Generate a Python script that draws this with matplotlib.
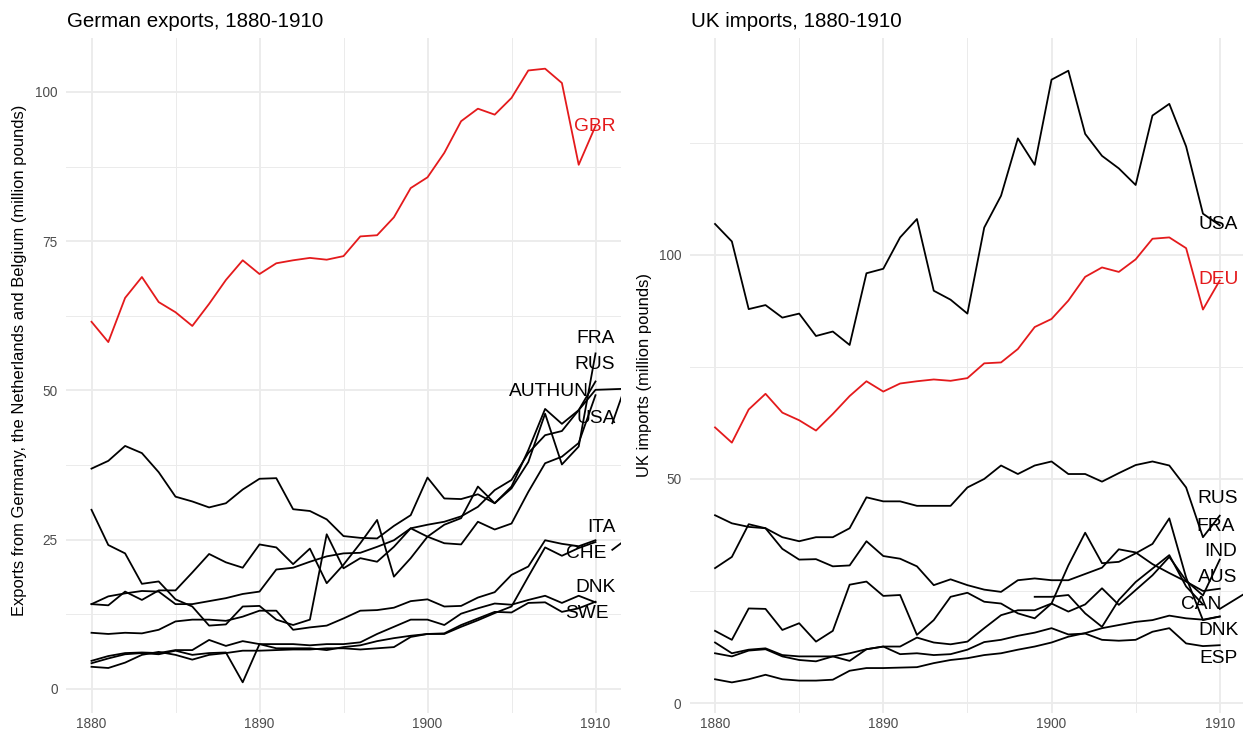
import matplotlib.pyplot as plt

years = list(range(1880, 1911))
red = "#E41A1C"

# left panel: German exports (million pounds)
gbr = [61.5, 58.1, 65.5, 69.0, 64.8, 63.1, 60.8, 64.5, 68.5, 71.8, 69.5, 71.3, 71.8, 72.2, 71.9, 72.5,
       75.8, 76.0, 79.0, 83.9, 85.7, 89.8, 95.1, 97.2, 96.2, 99.0, 103.6, 103.9, 101.5, 87.8, 94.3]
authun = [36.9, 38.2, 40.7, 39.5, 36.3, 32.2, 31.4, 30.4, 31.1, 33.4, 35.2, 35.3, 30.1, 29.8, 28.4, 25.6,
          25.3, 25.2, 27.3, 29.1, 35.4, 31.9, 31.8, 32.6, 31.1, 33.9, 40.0, 46.9, 44.4, 46.7, 50.1, 50.2, 50.3]
usa_x = [30.0, 24.1, 22.7, 17.6, 18.0, 15.0, 13.8, 10.6, 10.8, 13.8, 13.9, 11.6, 10.7, 11.6, 25.9, 20.2,
         21.9, 21.3, 23.8, 26.9, 25.5, 24.4, 24.2, 28.0, 26.7, 27.7, 33.0, 37.8, 38.9, 41.2, 49.2]
fra_x = [14.2, 14.0, 16.3, 14.9, 16.5, 16.5, 19.5, 22.6, 21.2, 20.3, 24.2, 23.7, 20.9, 23.5, 17.7, 20.8,
         24.4, 28.3, 18.8, 21.9, 25.5, 27.5, 28.6, 33.9, 31.1, 33.6, 38.0, 46.1, 37.6, 40.6, 56.2]
rus_x = [14.2, 15.5, 16.0, 16.4, 16.3, 14.2, 14.2, 14.7, 15.2, 15.9, 16.3, 20.0, 20.3, 21.3, 22.2, 22.7,
         22.8, 23.8, 24.9, 26.9, 27.5, 28.0, 28.9, 30.5, 33.3, 35.0, 39.5, 42.5, 43.2, 46.7, 51.5]
ita_x = [9.4, 9.2, 9.4, 9.3, 9.9, 11.3, 11.6, 11.6, 11.4, 12.1, 13.1, 13.1, 9.9, 10.3, 10.6, 11.8,
         13.1, 13.2, 13.6, 14.7, 15.0, 13.8, 13.9, 15.3, 16.2, 19.1, 20.5, 24.9, 24.3, 23.9, 24.9]
dnk_x = [4.7, 5.5, 6.0, 6.1, 6.0, 6.5, 6.5, 8.2, 7.2, 8.0, 7.5, 7.5, 7.5, 7.3, 7.5, 7.5,
         7.8, 9.2, 10.4, 11.6, 11.6, 10.7, 12.6, 13.5, 14.3, 14.1, 14.9, 15.6, 14.4, 15.6, 14.5]
swe_x = [4.3, 5.1, 5.8, 6.0, 5.8, 6.4, 5.7, 6.0, 6.1, 1.1, 7.5, 6.8, 6.8, 6.8, 6.5, 7.0,
         7.3, 8.0, 8.5, 8.9, 9.2, 9.3, 10.7, 11.8, 12.9, 12.8, 14.4, 14.5, 12.9, 13.5, 14.6]
che_x = [3.7, 3.5, 4.4, 5.7, 6.2, 5.7, 4.9, 5.7, 6.0, 6.4, 6.4, 6.5, 6.6, 6.6, 6.8, 6.8,
         6.6, 6.8, 7.0, 8.7, 9.2, 9.2, 10.4, 11.5, 12.7, 13.8, 18.8, 23.7, 22.3, 23.6, 24.6]
late_years = [1911, 1912]
late_a = [44.5, 52.5]
late_b = [23.3, 25.4]

# right panel: UK imports (million pounds)
deu = gbr
usa_m = [106.9, 103.0, 87.9, 88.8, 86.0, 86.9, 81.9, 82.9, 79.9, 95.9, 96.9, 103.9, 108.0, 92.0, 90.0, 86.9,
         106.1, 113.2, 126.0, 120.1, 139.1, 141.1, 127.0, 122.1, 119.3, 115.6, 131.1, 133.7, 124.2, 109.2, 106.6]
rus_m = [41.9, 40.1, 39.3, 39.0, 37.0, 36.1, 37.0, 37.0, 39.0, 45.9, 45.0, 45.0, 44.0, 44.0, 44.0, 48.1,
         50.0, 53.0, 51.1, 53.0, 53.9, 51.1, 51.1, 49.4, 51.3, 53.1, 53.9, 53.0, 48.1, 37.0, 41.8]
fra_m = [30.1, 32.6, 39.9, 39.0, 34.4, 32.0, 32.1, 30.5, 30.7, 36.1, 32.8, 32.2, 30.5, 26.3, 27.6, 26.3,
         25.3, 24.8, 27.4, 27.8, 27.4, 27.4, 28.8, 30.2, 34.3, 33.6, 31.0, 29.0, 27.1, 25.0, 25.5]
aus_m = [16.1, 14.1, 21.1, 21.0, 16.3, 17.8, 13.7, 16.1, 26.4, 27.1, 23.9, 24.1, 15.2, 18.5, 23.7, 24.6,
         22.6, 22.2, 20.0, 18.9, 22.2, 20.4, 22.0, 25.6, 21.9, 25.2, 28.5, 32.6, 27.3, 24.0, 32.0]
ind_m = [13.5, 11.1, 11.9, 12.2, 10.7, 10.4, 10.4, 10.4, 11.1, 12.0, 12.6, 12.6, 14.6, 13.5, 13.1, 13.7,
         16.7, 19.6, 20.7, 20.7, 22.2, 30.7, 38.0, 31.2, 31.5, 33.4, 35.5, 41.2, 28.0, 18.5, 19.3]
esp_m = [11.1, 10.4, 11.7, 12.0, 10.4, 9.6, 9.3, 10.4, 9.4, 12.0, 12.6, 10.9, 11.1, 10.7, 10.9, 11.9,
         13.6, 14.1, 15.0, 15.7, 16.7, 15.3, 15.5, 14.1, 13.9, 14.1, 15.9, 16.7, 13.3, 12.7, 12.9]
dnk_m = [5.3, 4.6, 5.3, 6.3, 5.3, 5.0, 5.0, 5.2, 7.2, 7.8, 7.8, 7.9, 8.0, 8.9, 9.6, 10.0,
         10.7, 11.1, 11.9, 12.6, 13.5, 14.8, 15.6, 16.7, 17.4, 18.1, 18.5, 19.5, 18.9, 18.6, 19.3]
can_years = list(range(1899, 1910))
can_m = [23.7, 23.7, 24.1, 20.0, 17.0, 23.0, 27.0, 30.0, 33.0, 26.0, 22.0]
tail_years = [1910, 1911, 1912]
tail_m = [21.0, 23.3, 25.6]

# end labels: name, x, y, colour
left_labels = [("GBR", 1911.2, 94.2, red), ("FRA", 1911.15, 58.7, "black"), ("RUS", 1911.15, 54.3, "black"),
               ("AUTHUN", 1909.6, 49.9, "black"), ("USA", 1911.2, 45.3, "black"), ("ITA", 1911.2, 27.1, "black"),
               ("CHE", 1910.65, 22.6, "black"), ("DNK", 1911.2, 17.0, "black"), ("SWE", 1910.8, 12.6, "black")]
right_labels = [("USA", 1911.1, 106.7, "black"), ("DEU", 1911.1, 94.6, red), ("RUS", 1911.05, 45.7, "black"),
                ("FRA", 1910.9, 39.5, "black"), ("IND", 1911.05, 33.8, "black"), ("AUS", 1911.05, 28.0, "black"),
                ("CAN", 1910.1, 22.0, "black"), ("DNK", 1911.1, 16.1, "black"), ("ESP", 1911.05, 10.0, "black")]

plt.rcParams['font.family'] = ['Liberation Sans', 'DejaVu Sans']

W, H = 1243, 733
fig = plt.figure(figsize=(W / 100, H / 100), dpi=100)
ax1 = fig.add_axes([66.3 / W, 20 / H, (620.7 - 66.3) / W, 675 / H])
ax2 = fig.add_axes([689.8 / W, 20 / H, (1245 - 689.8) / W, 675 / H])


def style(ax, ylim, major, minor):
    ax.set_xlim(1878.5, 1911.5)
    ax.set_ylim(*ylim)
    ax.set_xticks([1880, 1890, 1900, 1910])
    ax.set_xticks([1885, 1895, 1905], minor=True)
    ax.set_yticks(major)
    ax.set_yticks(minor, minor=True)
    ax.grid(which='major', color='#EBEBEB', lw=1.3)
    ax.grid(which='minor', color='#EBEBEB', lw=0.7)
    ax.set_axisbelow(True)
    for s in ax.spines.values():
        s.set_visible(False)
    ax.tick_params(which='both', length=0, labelsize=9.8, labelcolor='#4D4D4D')
    ax.tick_params(axis='x', pad=3)
    ax.tick_params(axis='y', pad=6)


style(ax1, (-4.04, 109.04), [0, 25, 50, 75, 100], [12.5, 37.5, 62.5, 87.5])
style(ax2, (-2.23, 148.4), [0, 50, 100], [25, 75, 125])

lw = 1.3
ax1.plot(years, gbr, color=red, lw=lw)
ax1.plot(years + [1911, 1912], authun, color='black', lw=lw)
for s in [usa_x, fra_x, rus_x, ita_x, dnk_x, swe_x, che_x]:
    ax1.plot(years, s, color='black', lw=lw)
ax1.plot(late_years, late_a, color='black', lw=lw)
ax1.plot(late_years, late_b, color='black', lw=lw)

ax2.plot(years, deu, color=red, lw=lw)
for s in [usa_m, rus_m, fra_m, aus_m, ind_m, esp_m, dnk_m]:
    ax2.plot(years, s, color='black', lw=lw)
ax2.plot(can_years, can_m, color='black', lw=lw)
ax2.plot(tail_years, tail_m, color='black', lw=lw)

for ax, labels in [(ax1, left_labels), (ax2, right_labels)]:
    for name, x, y, c in labels:
        ax.text(x, y, name, color=c, fontsize=13.8, ha='right', va='center')

fig.text(67 / W, 1 - 27 / H, "German exports, 1880-1910", fontsize=14.8, va='baseline', ha='left')
fig.text(691 / W, 1 - 27 / H, "UK imports, 1880-1910", fontsize=14.8, va='baseline', ha='left')
fig.text(20 / W, 1 - 360 / H, "Exports from Germany, the Netherlands and Belgium (million pounds)",
         rotation=90, fontsize=11.9, va='center', ha='center')
fig.text(645 / W, 1 - 375 / H, "UK imports (million pounds)", rotation=90, fontsize=11.9,
         va='center', ha='center')

fig.savefig("out.png", dpi=100)
